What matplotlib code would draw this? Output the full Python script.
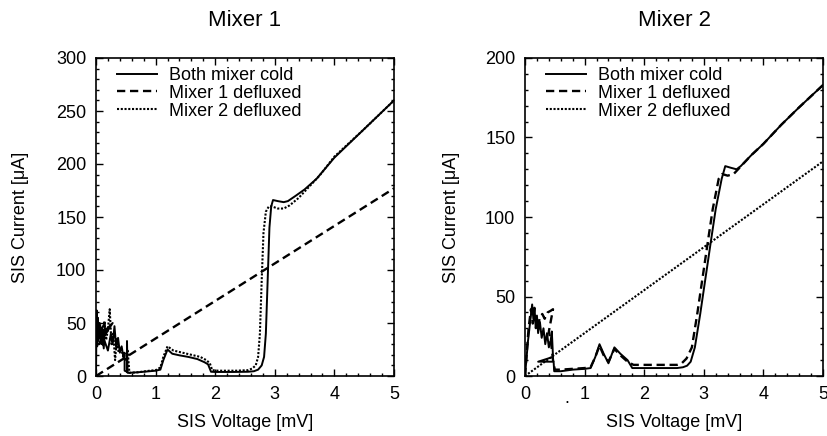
import matplotlib
matplotlib.use("Agg")
import matplotlib.pyplot as plt
import numpy as np
from matplotlib.ticker import MultipleLocator

plt.rcParams['font.family'] = ['Liberation Sans', 'DejaVu Sans']

labels = ["Both mixer cold", "Mixer 1 defluxed", "Mixer 2 defluxed"]
titles = ["Mixer 1", "Mixer 2"]

# (voltage mV, current uA)
m1_cold = np.array([
    [0.00, 0], [0.01, 62], [0.02, 28], [0.03, 55], [0.05, 35], [0.07, 48],
    [0.09, 30], [0.11, 44], [0.13, 26], [0.15, 50], [0.02, 38], [0.22, 46],
    [0.05, 30], [0.28, 50], [0.10, 40], [0.20, 24], [0.25, 40], [0.28, 30],
    [0.31, 47], [0.34, 26], [0.37, 36], [0.40, 22], [0.43, 28], [0.46, 18],
    [0.48, 22], [0.48, 5], [0.52, 4], [0.52, 33], [0.53, 3], [0.55, 3],
    [0.70, 3.5], [0.90, 4.5], [1.00, 5], [1.08, 6], [1.13, 15], [1.20, 25],
    [1.28, 21], [1.40, 19.5], [1.55, 18], [1.70, 16], [1.82, 13], [1.88, 11],
    [1.93, 4], [2.00, 3.8], [2.30, 3.8], [2.55, 4], [2.65, 4.5], [2.72, 6],
    [2.78, 10], [2.82, 18], [2.85, 40], [2.88, 90], [2.91, 140], [2.94, 160],
    [2.97, 166], [3.05, 165], [3.15, 164], [3.22, 165], [3.35, 170], [3.50, 176],
    [3.70, 186], [4.00, 206], [4.50, 233], [5.00, 260]])
m1_def1 = np.array([[0.00, 0], [5.00, 177]])
m1_def2 = np.array([
    [0.00, 30], [0.02, 45], [0.04, 32], [0.06, 50], [0.08, 36], [0.10, 46],
    [0.12, 28], [0.14, 52], [0.17, 34], [0.20, 44], [0.23, 63], [0.26, 30],
    [0.29, 40], [0.32, 15], [0.35, 35], [0.38, 22], [0.42, 26], [0.46, 18],
    [0.50, 14], [0.53, 25], [0.56, 3], [0.70, 3.5], [0.90, 5], [1.00, 5.5],
    [1.08, 8], [1.13, 18], [1.20, 28], [1.30, 24], [1.45, 22], [1.60, 20],
    [1.75, 18], [1.85, 15], [1.91, 12], [1.95, 5.5], [2.05, 5], [2.35, 5],
    [2.55, 5.5], [2.62, 7], [2.68, 10], [2.72, 18], [2.75, 40], [2.78, 90],
    [2.81, 135], [2.85, 155], [2.90, 160], [2.95, 160], [3.05, 158], [3.15, 158],
    [3.25, 161], [3.40, 168], [3.55, 177], [3.75, 189], [4.00, 207], [4.50, 233],
    [5.00, 260]])

m2_cold = np.array([
    [0.00, 0], [0.05, 22], [0.12, 45], [0.14, 36], [0.16, 43], [0.18, 30],
    [0.20, 38], [0.22, 27], [0.25, 34], [0.28, 24], [0.31, 30], [0.34, 20],
    [0.37, 27], [0.40, 18], [0.43, 22], [0.45, 28], [0.47, 12], [0.22, 9],
    [0.48, 9], [0.49, 3], [0.60, 3], [0.80, 4], [1.00, 4.5], [1.10, 5],
    [1.18, 12], [1.25, 20], [1.32, 14], [1.40, 8], [1.50, 18], [1.60, 14],
    [1.72, 10], [1.80, 5], [2.00, 5], [2.30, 5], [2.55, 5], [2.65, 5.5],
    [2.72, 6.5], [2.78, 9], [2.85, 18], [2.94, 39], [3.03, 62], [3.12, 85],
    [3.20, 105], [3.30, 124], [3.36, 132], [3.45, 131], [3.55, 130], [3.62, 132],
    [3.80, 139], [4.00, 146], [4.30, 158], [4.60, 169], [5.00, 183]])
m2_def1 = np.array([
    [0.00, 0], [0.06, 30], [0.10, 42], [0.13, 33], [0.17, 38], [0.21, 30],
    [0.25, 37], [0.29, 39], [0.33, 36], [0.38, 40], [0.43, 41], [0.47, 42],
    [0.40, 28], [0.44, 20], [0.47, 10], [0.50, 4], [0.60, 4], [0.80, 4.5],
    [1.00, 5], [1.10, 5.5], [1.18, 12], [1.25, 19], [1.32, 13], [1.40, 9],
    [1.50, 17], [1.60, 13], [1.72, 9], [1.82, 7], [2.00, 7], [2.30, 7],
    [2.55, 7], [2.63, 8], [2.71, 11], [2.80, 18], [2.89, 39], [2.98, 62],
    [3.07, 85], [3.15, 105], [3.25, 124], [3.31, 127], [3.40, 126], [3.50, 127],
    [3.60, 131], [3.80, 139], [4.00, 146], [4.30, 158], [4.60, 169], [5.00, 183]])
m2_def2 = np.array([[0.00, 0], [5.00, 135]])

panels = [
    (titles[0], [m1_cold, m1_def1, m1_def2], 300),
    (titles[1], [m2_cold, m2_def1, m2_def2], 200),
]
styles = ['-', (0, (3.5, 2)), (0, (1, 0.8))]
widths = [1.4, 1.7, 1.5]

fig = plt.figure(figsize=(8.27, 4.36), dpi=100)
lefts = [96 / 827, 525 / 827]
axw, axh = 298 / 827, 318 / 436
axb = 60 / 436

for k, (title, series, ytop) in enumerate(panels):
    ax = fig.add_axes([lefts[k], axb, axw, axh])
    for s, ls, lw, lab in zip(series, styles, widths, labels):
        ax.plot(s[:, 0], s[:, 1], color='black', ls=ls, lw=lw, label=lab)
    ax.set_xlim(0, 5)
    ax.set_ylim(0, ytop)
    ax.xaxis.set_major_locator(MultipleLocator(1))
    ax.xaxis.set_minor_locator(MultipleLocator(0.2))
    ax.yaxis.set_major_locator(MultipleLocator(50))
    ax.yaxis.set_minor_locator(MultipleLocator(10))
    ax.tick_params(which='both', direction='in', top=True, right=True,
                   labelsize=13, width=1)
    ax.tick_params(which='major', length=5)
    ax.tick_params(which='minor', length=2.5)
    ax.tick_params(axis='x', pad=7)
    ax.tick_params(axis='y', pad=7)
    for sp in ax.spines.values():
        sp.set_linewidth(1.2)
    ax.set_title(title, fontsize=16, pad=23)
    ax.set_xlabel("SIS Voltage [mV]", fontsize=13)
    ax.set_ylabel("SIS Current [\u03bcA]", fontsize=13)
    ax.xaxis.label.set_va('center')
    ax.yaxis.label.set_va('center')
    ax.xaxis.set_label_coords(0.5, -0.145)
    ax.yaxis.set_label_coords(-0.255 if k == 0 else -0.245, 0.5)
    ax.legend(loc='upper left', bbox_to_anchor=(0.07, 0.972), frameon=False,
              fontsize=13, handlelength=2.2, handletextpad=0.7,
              labelspacing=0.05, borderpad=0, borderaxespad=0)
    if k == 1:
        ax.text(0.14, -0.07, ".", transform=ax.transAxes, fontsize=13,
                ha='center', va='center')

fig.savefig("out.png", dpi=100)
